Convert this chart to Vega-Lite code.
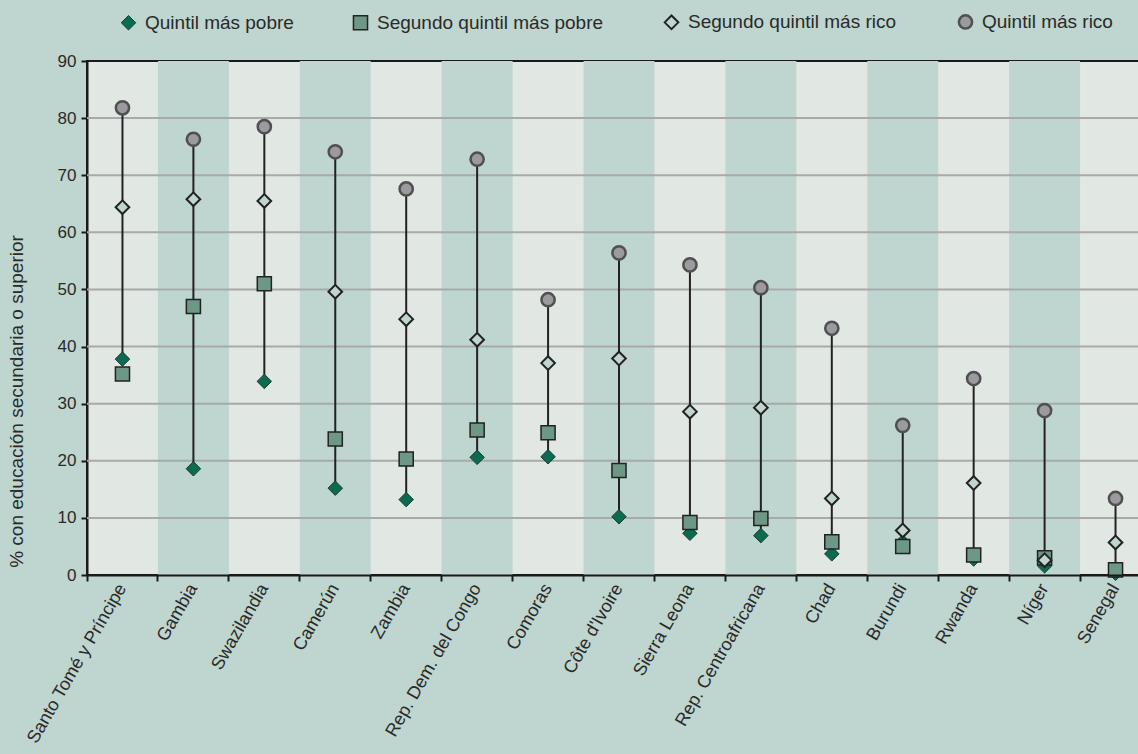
{
  "$schema": "https://vega.github.io/schema/vega-lite/v6.json",
  "width": 1064,
  "height": 514,
  "autosize": {"type": "none"},
  "padding": {"left": 87, "top": 61, "right": 0, "bottom": 179},
  "background": "#bfd5cf",
  "config": {
    "font": "Liberation Sans",
    "view": {"fill": "#e1e7e3", "stroke": "#1a1a1a", "strokeWidth": 2},
    "axis": {
      "domainColor": "#1a1a1a", "domainWidth": 2,
      "tickColor": "#1a1a1a", "tickWidth": 2, "tickSize": 6,
      "labelFont": "Liberation Sans", "labelFontSize": 17, "labelColor": "#2a2a2a",
      "titleFont": "Liberation Sans", "titleFontSize": 19, "titleFontWeight": "normal", "titleColor": "#2a2a2a",
      "grid": false
    },
    "axisY": {"labelPadding": 5},
    "axisX": {"labelAngle": -60, "labelPadding": 4, "labelLimit": 400, "labelFontSize": 18},
    "legend": {
      "orient": "none", "legendX": 32, "legendY": -49, "direction": "horizontal",
      "columnPadding": 56, "labelFont": "Liberation Sans", "labelFontSize": 19, "labelColor": "#2a2a2a",
      "labelOffset": 7, "padding": 0, "titleFontSize": 0, "labelLimit": 500
    }
  },
  "data": {
    "values": [
      {"pais": "Santo Tomé y Príncipe", "Quintil más pobre": 37.8, "Segundo quintil más pobre": 35.2, "Segundo quintil más rico": 64.4, "Quintil más rico": 81.8},
      {"pais": "Gambia", "Quintil más pobre": 18.6, "Segundo quintil más pobre": 47.0, "Segundo quintil más rico": 65.8, "Quintil más rico": 76.3},
      {"pais": "Swazilandia", "Quintil más pobre": 33.9, "Segundo quintil más pobre": 51.0, "Segundo quintil más rico": 65.5, "Quintil más rico": 78.5},
      {"pais": "Camerún", "Quintil más pobre": 15.2, "Segundo quintil más pobre": 23.8, "Segundo quintil más rico": 49.6, "Quintil más rico": 74.1},
      {"pais": "Zambia", "Quintil más pobre": 13.2, "Segundo quintil más pobre": 20.3, "Segundo quintil más rico": 44.8, "Quintil más rico": 67.6},
      {"pais": "Rep. Dem. del Congo", "Quintil más pobre": 20.6, "Segundo quintil más pobre": 25.4, "Segundo quintil más rico": 41.2, "Quintil más rico": 72.8},
      {"pais": "Comoras", "Quintil más pobre": 20.7, "Segundo quintil más pobre": 24.9, "Segundo quintil más rico": 37.1, "Quintil más rico": 48.2},
      {"pais": "Côte d'Ivoire", "Quintil más pobre": 10.2, "Segundo quintil más pobre": 18.3, "Segundo quintil más rico": 37.9, "Quintil más rico": 56.4},
      {"pais": "Sierra Leona", "Quintil más pobre": 7.3, "Segundo quintil más pobre": 9.2, "Segundo quintil más rico": 28.6, "Quintil más rico": 54.3},
      {"pais": "Rep. Centroafricana", "Quintil más pobre": 6.9, "Segundo quintil más pobre": 9.9, "Segundo quintil más rico": 29.3, "Quintil más rico": 50.3},
      {"pais": "Chad", "Quintil más pobre": 3.7, "Segundo quintil más pobre": 5.8, "Segundo quintil más rico": 13.4, "Quintil más rico": 43.2},
      {"pais": "Burundi", "Quintil más pobre": 5.8, "Segundo quintil más pobre": 5.0, "Segundo quintil más rico": 7.8, "Quintil más rico": 26.2},
      {"pais": "Rwanda", "Quintil más pobre": 2.8, "Segundo quintil más pobre": 3.5, "Segundo quintil más rico": 16.1, "Quintil más rico": 34.4},
      {"pais": "Níger", "Quintil más pobre": 1.6, "Segundo quintil más pobre": 3.0, "Segundo quintil más rico": 2.6, "Quintil más rico": 28.8},
      {"pais": "Senegal", "Quintil más pobre": 0.3, "Segundo quintil más pobre": 0.9, "Segundo quintil más rico": 5.7, "Quintil más rico": 13.4}
    ]
  },
  "layer": [
    {
      "transform": [
        {"window": [{"op": "row_number", "as": "i"}]},
        {"filter": "datum.i % 2 == 0"}
      ],
      "mark": {"type": "rect", "fill": "#bfd5cf"},
      "encoding": {
        "x": {"field": "pais", "type": "nominal", "title": null,
          "scale": {"domain": ["Santo Tomé y Príncipe", "Gambia", "Swazilandia", "Camerún", "Zambia", "Rep. Dem. del Congo", "Comoras", "Côte d'Ivoire", "Sierra Leona", "Rep. Centroafricana", "Chad", "Burundi", "Rwanda", "Níger", "Senegal"], "paddingInner": 0, "paddingOuter": 0},
          "axis": {"bandPosition": 0}},
        "y": {"datum": 0, "type": "quantitative", "title": "% con educación secundaria o superior",
          "scale": {"domain": [0, 90], "nice": false},
          "axis": {"values": [0, 10, 20, 30, 40, 50, 60, 70, 80, 90], "titleX": -61, "titleY": 340, "titleBaseline": "bottom", "titleAngle": -90}},
        "y2": {"datum": 90}
      }
    },
    {
      "data": {"values": [{"g": 10}, {"g": 20}, {"g": 30}, {"g": 40}, {"g": 50}, {"g": 60}, {"g": 70}, {"g": 80}]},
      "mark": {"type": "rule", "color": "#a7aaa9", "strokeWidth": 2},
      "encoding": {
        "y": {"field": "g", "type": "quantitative", "title": "% con educación secundaria o superior"}
      }
    },
    {
      "mark": {"type": "rule", "color": "#222222", "strokeWidth": 2},
      "encoding": {
        "x": {"field": "pais", "type": "nominal", "title": null},
        "y": {"field": "Quintil más pobre", "type": "quantitative", "title": "% con educación secundaria o superior"},
        "y2": {"field": "Quintil más rico"}
      }
    },
    {
      "transform": [
        {"fold": ["Quintil más pobre", "Segundo quintil más pobre", "Segundo quintil más rico", "Quintil más rico"], "as": ["grupo", "valor"]}
      ],
      "mark": {"type": "point", "filled": false, "opacity": 1, "fillOpacity": 1},
      "encoding": {
        "x": {"field": "pais", "type": "nominal", "title": null},
        "y": {"field": "valor", "type": "quantitative", "title": "% con educación secundaria o superior"},
        "shape": {"field": "grupo", "type": "ordinal", "title": null,
          "scale": {"domain": ["Quintil más pobre", "Segundo quintil más pobre", "Segundo quintil más rico", "Quintil más rico"], "range": ["diamond", "square", "diamond", "circle"]},
          "legend": {"encode": {"symbols": {"size": {"value": 260}}}}},
        "fill": {"field": "grupo", "type": "ordinal", "title": null,
          "scale": {"domain": ["Quintil más pobre", "Segundo quintil más pobre", "Segundo quintil más rico", "Quintil más rico"], "range": ["#0b6b50", "#6d9886", "#c0d5cf", "#9a9a9f"]},
          "legend": {"encode": {"symbols": {"size": {"value": 260}}}}},
        "stroke": {"field": "grupo", "type": "ordinal", "title": null,
          "scale": {"domain": ["Quintil más pobre", "Segundo quintil más pobre", "Segundo quintil más rico", "Quintil más rico"], "range": ["#1f3a32", "#222222", "#222222", "#505050"]},
          "legend": {"encode": {"symbols": {"size": {"value": 260}}}}},
        "size": {"field": "grupo", "type": "ordinal", "title": null,
          "scale": {"domain": ["Quintil más pobre", "Segundo quintil más pobre", "Segundo quintil más rico", "Quintil más rico"], "range": [210, 175, 280, 200]},
          "legend": {"encode": {"symbols": {"size": {"value": 260}}}}},
        "strokeWidth": {"field": "grupo", "type": "ordinal", "title": null,
          "scale": {"domain": ["Quintil más pobre", "Segundo quintil más pobre", "Segundo quintil más rico", "Quintil más rico"], "range": [1, 2.5, 2.5, 1]},
          "legend": {"encode": {"symbols": {"size": {"value": 260}}}}}
      }
    }
  ]
}
